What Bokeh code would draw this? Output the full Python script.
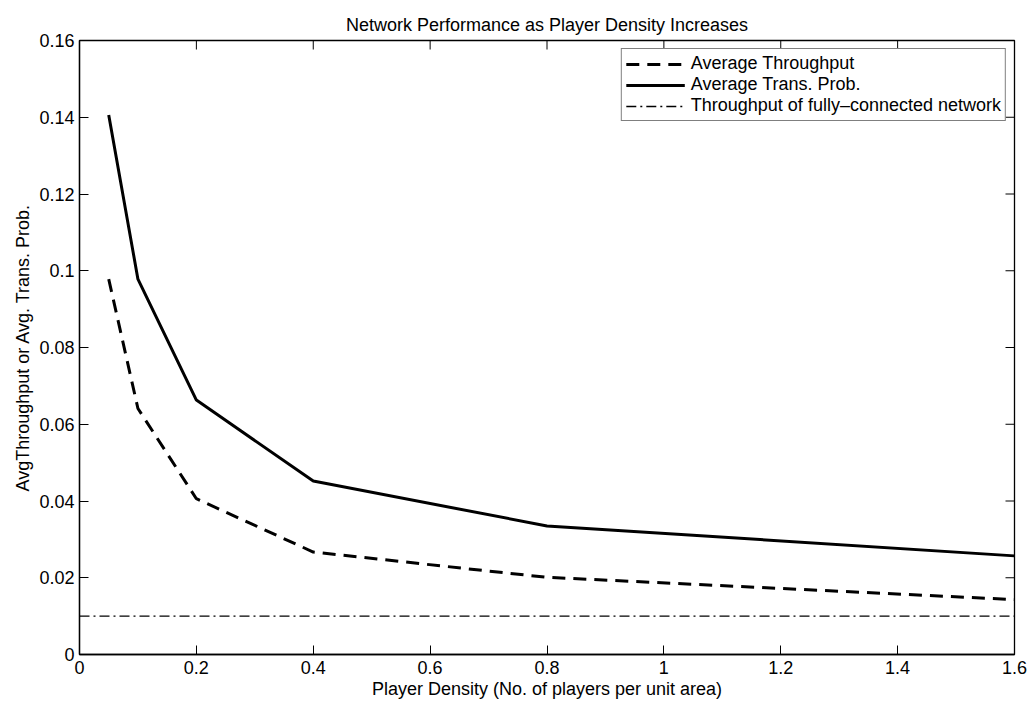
import math
from bokeh.plotting import figure
from bokeh.models import LinearAxis, FixedTicker, Legend, LegendItem, Range1d, Title
from bokeh.embed import file_html
from bokeh.resources import INLINE

# ---- data ----
density = [0.05, 0.1, 0.2, 0.4, 0.8, 1.6]
avg_throughput = [0.0978, 0.0641, 0.0406, 0.0267, 0.0201, 0.0143]
avg_trans_prob = [0.1406, 0.0978, 0.0663, 0.0452, 0.0335, 0.0257]
full_x = [0, 1.6]
full_throughput = [0.01, 0.01]

x_ticks = [0, 0.2, 0.4, 0.6, 0.8, 1, 1.2, 1.4, 1.6]
x_tick_labels = ["0", "0.2", "0.4", "0.6", "0.8", "1", "1.2", "1.4", "1.6"]
y_ticks = [0, 0.02, 0.04, 0.06, 0.08, 0.1, 0.12, 0.14, 0.16]
y_tick_labels = ["0", "0.02", "0.04", "0.06", "0.08", "0.1", "0.12", "0.14", "0.16"]

FONT = "Liberation Sans"
FS = "18px"

x_lo, x_hi = x_ticks[0], x_ticks[-1]
y_lo, y_hi = y_ticks[0], y_ticks[-1]

p = figure(width=1027, height=702, output_backend="svg", toolbar_location=None,
           x_range=Range1d(x_lo, x_hi), y_range=Range1d(y_lo, y_hi),
           x_axis_type=None, y_axis_type=None,
           min_border_left=79, min_border_right=13, min_border_top=40, min_border_bottom=48)
p.background_fill_color = "white"
p.border_fill_color = "white"
p.outline_line_color = "black"
p.outline_line_width = 1.3
p.grid.visible = False

def style_axis(ax, ticks, labels):
    ax.ticker = FixedTicker(ticks=ticks)
    ax.major_label_overrides = {t: l for t, l in zip(ticks, labels)}
    ax.minor_tick_line_color = None
    ax.major_tick_in = 9
    ax.major_tick_out = 0
    ax.major_tick_line_color = "black"
    ax.major_tick_line_width = 1
    ax.axis_line_color = "black"
    ax.axis_line_width = 1.3
    ax.major_label_text_font = FONT
    ax.major_label_text_color = "black"
    ax.major_label_text_font_size = FS
    ax.axis_label_text_font = FONT
    ax.axis_label_text_font_size = FS
    ax.axis_label_text_font_style = "normal"
    ax.axis_label_text_color = "black"

xb = LinearAxis(axis_label="Player Density (No. of players per unit area)")
style_axis(xb, x_ticks, x_tick_labels)
xb.major_label_standoff = 6
xb.axis_label_standoff = 2
p.add_layout(xb, "below")

yl = LinearAxis(axis_label="AvgThroughput or Avg. Trans. Prob.")
style_axis(yl, y_ticks, y_tick_labels)
yl.major_label_standoff = 5
yl.axis_label_standoff = 3
p.add_layout(yl, "left")

p.add_layout(Title(text="Network Performance as Player Density Increases", align="center",
                   text_font=FONT, text_font_size=FS, text_font_style="normal",
                   text_color="black", standoff=12), "above")

# inward ticks on the top and right edges of the box (MATLAB style)
p.ray(x=x_ticks, y=[y_hi] * len(x_ticks), length=9, length_units="screen",
      angle=-math.pi / 2, line_color="black", line_width=1)
p.ray(x=[x_hi] * len(y_ticks), y=y_ticks, length=9, length_units="screen",
      angle=math.pi, line_color="black", line_width=1)

r1 = p.line(density, avg_throughput, line_color="black", line_width=3, line_dash="13 8")
r2 = p.line(density, avg_trans_prob, line_color="black", line_width=3)
r3 = p.line(full_x, full_throughput, line_color="black", line_width=1.4, line_dash="10 4 2 4")

legend = Legend(items=[
    LegendItem(label="Average Throughput", renderers=[r1]),
    LegendItem(label="Average Trans. Prob.", renderers=[r2]),
    LegendItem(label="Throughput of fully\u2013connected network", renderers=[r3]),
], location="top_right")
legend.margin = 8
legend.padding = 4
legend.spacing = 0
legend.glyph_width = 59
legend.glyph_height = 14
legend.label_height = 14
legend.label_standoff = 6
legend.label_text_font = FONT
legend.label_text_font_size = FS
legend.label_text_line_height = 0.8
legend.label_text_color = "black"
legend.border_line_color = "black"
legend.border_line_width = 1
legend.background_fill_color = "white"
legend.background_fill_alpha = 1
p.add_layout(legend)

open("out.html", "w").write(file_html(p, INLINE))
